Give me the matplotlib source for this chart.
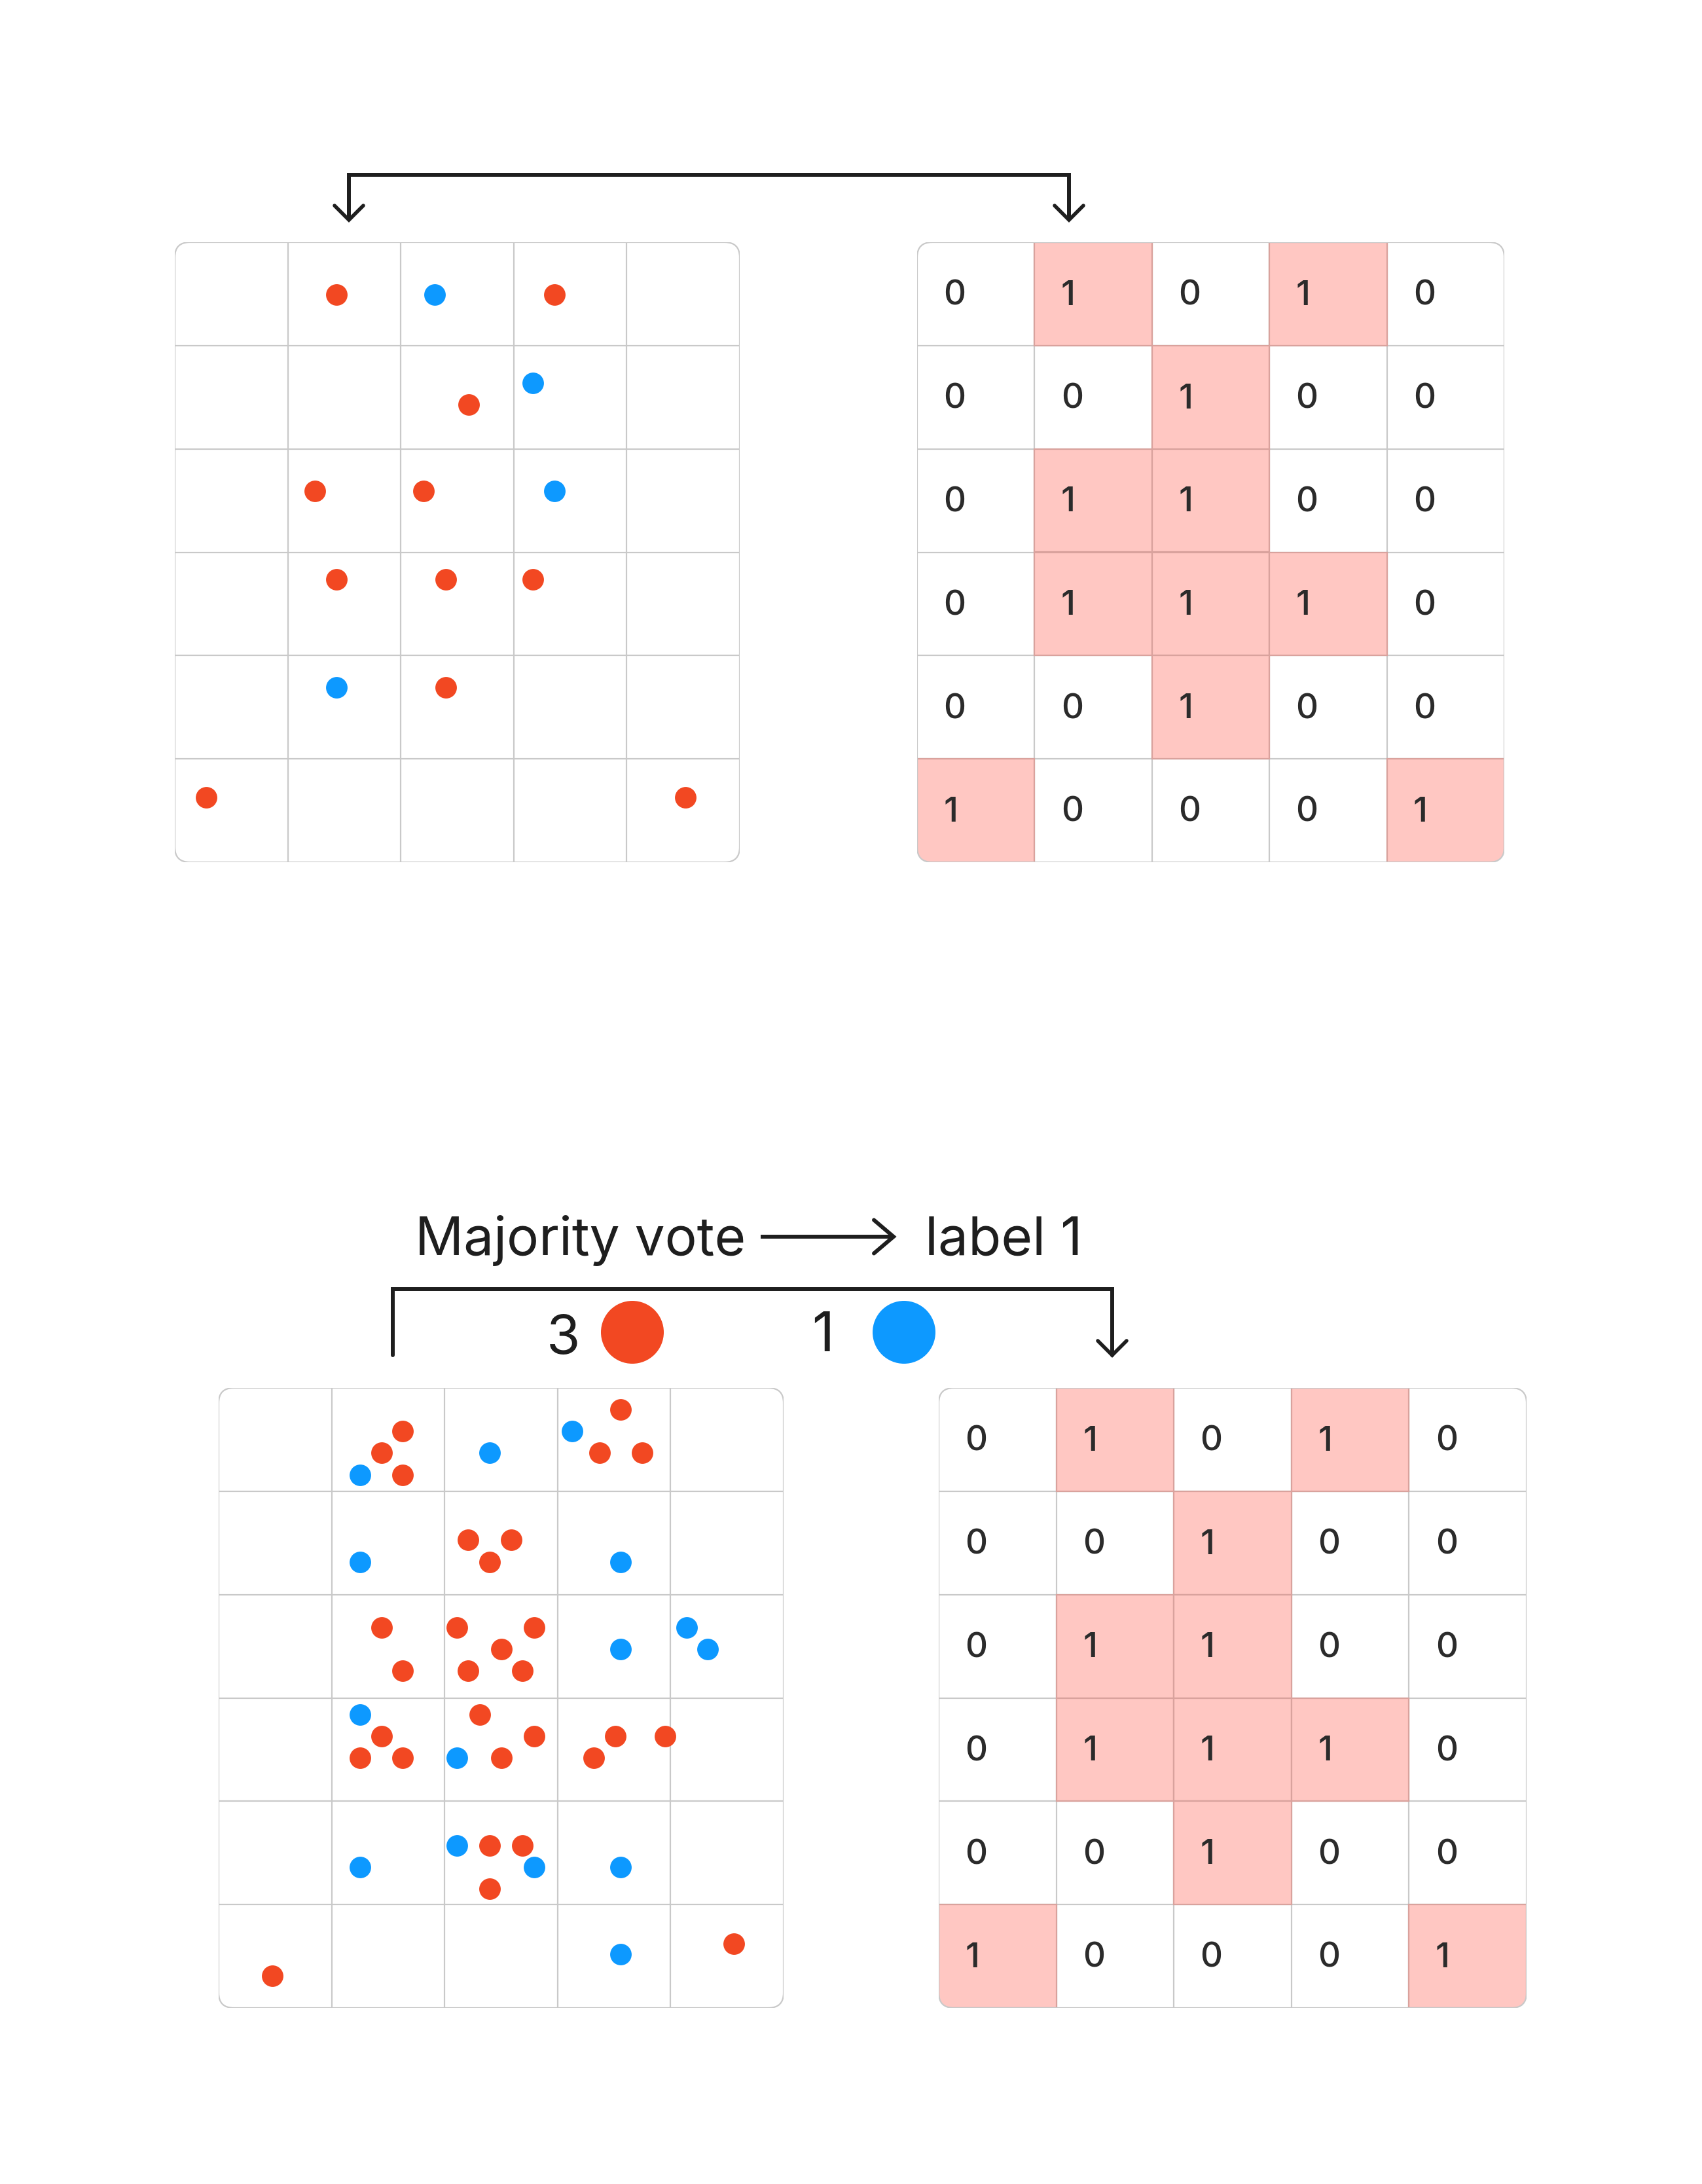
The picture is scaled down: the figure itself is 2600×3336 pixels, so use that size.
import numpy as np
import matplotlib
matplotlib.use("Agg")
import matplotlib.pyplot as plt
from matplotlib.patches import FancyBboxPatch, Rectangle, Circle

plt.rcParams['font.family'] = ['Inter', 'DejaVu Sans']

# 数据: 标签网格 (6 行 x 5 列)
label_grid = [
    [0, 1, 0, 1, 0],
    [0, 0, 1, 0, 0],
    [0, 1, 1, 0, 0],
    [0, 1, 1, 1, 0],
    [0, 0, 1, 0, 0],
    [1, 0, 0, 0, 1],
]

# 上方点 (网格坐标: 列, 行)
top_red_x = [1.43, 3.36, 2.60, 1.24, 2.20, 1.43, 2.40, 3.17, 2.40, 0.28, 4.52]
top_red_y = [0.51, 0.51, 1.57, 2.41, 2.41, 3.26, 3.26, 3.26, 4.31, 5.37, 5.37]
top_blue_x = [2.30, 3.17, 3.36, 1.43]
top_blue_y = [0.51, 1.36, 2.41, 4.31]

# 下方点
bot_red_x = [1.63, 1.44, 1.63, 3.56, 3.37, 3.75,
             2.21, 2.59, 2.40,
             1.44, 1.63, 2.11, 2.79, 2.50, 2.21, 2.69,
             1.44, 1.25, 1.63, 2.31, 2.79, 2.50, 3.51, 3.32, 3.95,
             2.40, 2.69, 2.40,
             0.475, 4.56]
bot_red_y = [0.415, 0.63, 0.84, 0.21, 0.63, 0.63,
             1.47, 1.47, 1.685,
             2.32, 2.74, 2.32, 2.32, 2.53, 2.74, 2.74,
             3.37, 3.58, 3.58, 3.16, 3.37, 3.58, 3.37, 3.58, 3.37,
             4.43, 4.43, 4.85,
             5.69, 5.38]
bot_blue_x = [1.25, 2.40, 3.13, 1.25, 3.56, 3.56, 4.14, 4.33,
              1.25, 2.11, 1.25, 2.11, 2.79, 3.56, 3.56]
bot_blue_y = [0.84, 0.63, 0.415, 1.685, 1.685, 2.53, 2.32, 2.53,
              3.16, 3.58, 4.64, 4.43, 4.64, 4.64, 5.48]

vote_counts = [3, 1]
vote_label = "label 1"

# 颜色
RED = '#F24822'
BLUE = '#0D99FF'
PINK = '#FFC7C2'
PINK_EDGE = '#D9A29D'
GRID = '#C9C9C9'
INK = '#1E1E1E'
NUM = '#2B2B2B'

W, H = 2600, 3337
fig = plt.figure(figsize=(W / 100, H / 100), dpi=100)
fig.patch.set_facecolor('white')

# 覆盖层 (像素坐标)
ov = fig.add_axes([0, 0, 1, 1])
ov.set_xlim(0, W)
ov.set_ylim(H, 0)
ov.set_axis_off()

NROW, NCOL = 6, 5
RADIUS = 23  # px


def make_grid(x0, y0, x1, y1):
    ax = fig.add_axes([x0 / W, 1 - y1 / H, (x1 - x0) / W, (y1 - y0) / H])
    ax.set_xlim(0, NCOL)
    ax.set_ylim(NROW, 0)
    ax.set_axis_off()
    cw = (x1 - x0) / NCOL
    ch = (y1 - y0) / NROW
    border = FancyBboxPatch((0, 0), NCOL, NROW,
                            boxstyle=f"round,pad=0,rounding_size={RADIUS / cw}",
                            mutation_aspect=cw / ch,
                            fc='none', ec=GRID, lw=1.6, zorder=3)
    ax.add_patch(border)
    for i in range(1, NCOL):
        ax.plot([i, i], [0, NROW], color=GRID, lw=1.6, zorder=1)
    for j in range(1, NROW):
        ax.plot([0, NCOL], [j, j], color=GRID, lw=1.6, zorder=1)
    return ax, border


def draw_labels(ax, border):
    for r, row in enumerate(label_grid):
        for c, v in enumerate(row):
            if v == 1:
                rect = Rectangle((c, r), 1, 1, fc=PINK, ec=PINK_EDGE, lw=1.6, zorder=2)
                ax.add_patch(rect)
                rect.set_clip_path(border)
            ax.text(c + 0.225, r + 0.515, str(v), ha='left', va='center',
                    fontsize=38, fontweight='medium', color=NUM, zorder=4)


def draw_points(ax, rx, ry, bx, by):
    ax.scatter(rx, ry, s=560, color=RED, linewidths=0, zorder=4)
    ax.scatter(bx, by, s=560, color=BLUE, linewidths=0, zorder=4)


# 上方
ax_tl, b_tl = make_grid(267, 371, 1130, 1318)
draw_points(ax_tl, top_red_x, top_red_y, top_blue_x, top_blue_y)
ax_tr, b_tr = make_grid(1401, 371, 2298, 1318)
draw_labels(ax_tr, b_tr)

# 下方
ax_bl, b_bl = make_grid(334, 2121, 1197, 3068)
draw_points(ax_bl, bot_red_x, bot_red_y, bot_blue_x, bot_blue_y)
ax_br, b_br = make_grid(1434, 2121, 2332, 3068)
draw_labels(ax_br, b_br)


def arrow_head(x, y, size, lw, direction='down'):
    if direction == 'down':
        ov.plot([x - size, x, x + size], [y - size, y, y - size], color=INK, lw=lw,
                solid_capstyle='round', solid_joinstyle='miter')
    else:
        ov.plot([x - size, x, x - size], [y - size * 0.85, y, y + size * 0.85], color=INK, lw=lw,
                solid_capstyle='round', solid_joinstyle='miter')


# 上方箭头
ov.plot([533, 533, 1633, 1633], [337, 268, 268, 337], color=INK, lw=4.3,
        solid_joinstyle='miter', solid_capstyle='butt')
arrow_head(533, 337, 22, 4.0)
arrow_head(1633, 337, 22, 4.0)

# 标题
ov.text(634, 1917, "Majority vote", fontsize=59, color=INK, ha='left', va='baseline')
ov.plot([1162, 1363], [1890, 1890], color=INK, lw=4.3, solid_capstyle='butt')
arrow_head(1365, 1890, 30, 4.3, direction='right')
ov.text(1413, 1917, vote_label, fontsize=59, color=INK, ha='left', va='baseline')

# 下方括号
ov.plot([600, 600, 1699, 1699], [2071, 1970, 1970, 2071], color=INK, lw=4.3,
        solid_joinstyle='miter', solid_capstyle='round')
arrow_head(1699, 2071, 22, 4.0)

# 投票数
ov.text(860, 2068, str(vote_counts[0]), fontsize=60, color=INK, ha='center', va='baseline')
ov.add_patch(Circle((966, 2036), 48, color=RED, lw=0))
ov.text(1257, 2064, str(vote_counts[1]), fontsize=60, color=INK, ha='center', va='baseline')
ov.add_patch(Circle((1381, 2036), 48, color=BLUE, lw=0))

fig.savefig('out.png', dpi=100)
